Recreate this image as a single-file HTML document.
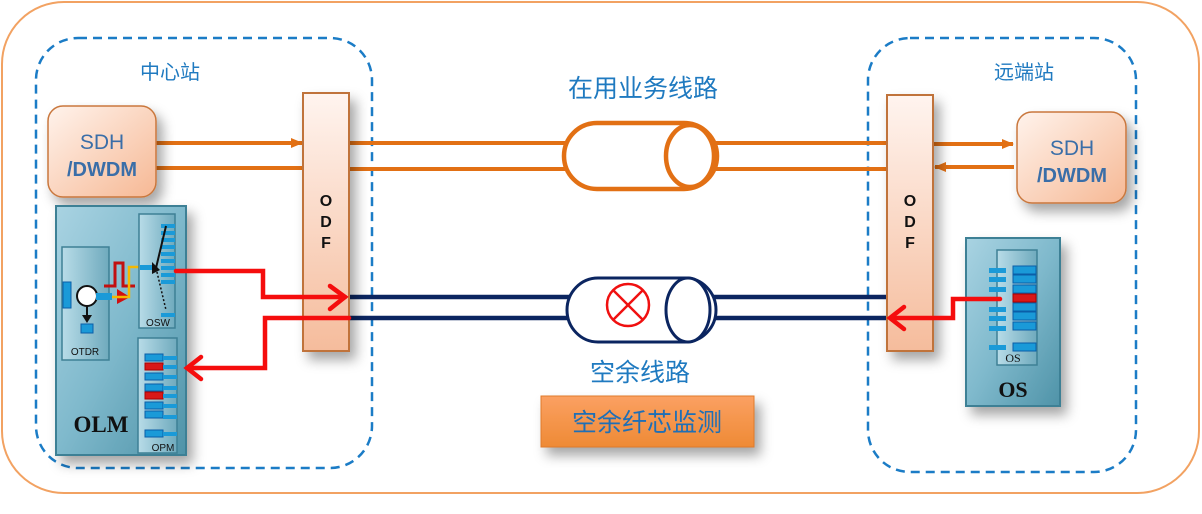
<!DOCTYPE html>
<html><head><meta charset="utf-8"><style>
html,body{margin:0;padding:0;background:#fff;width:1202px;height:514px;overflow:hidden}
svg{display:block}
text{font-family:"Liberation Sans","Noto Sans CJK SC",sans-serif}
.cn{font-family:"Liberation Sans","Noto Sans CJK SC",sans-serif;fill:#1f7ac0}
.serif{font-family:"Liberation Serif",serif}
</style></head><body>
<svg width="1202" height="514" viewBox="0 0 1202 514" xmlns="http://www.w3.org/2000/svg">
<defs>
<linearGradient id="peach" x1="0" y1="0" x2="1" y2="1"><stop offset="0" stop-color="#fff3ec"/><stop offset="1" stop-color="#f6b894"/></linearGradient>
<linearGradient id="odf" x1="0" y1="0" x2="0" y2="1"><stop offset="0" stop-color="#fff4ef"/><stop offset="1" stop-color="#f5bc9c"/></linearGradient>
<linearGradient id="teal" x1="0" y1="0" x2="1" y2="1"><stop offset="0" stop-color="#a9d3e2"/><stop offset="0.5" stop-color="#7fb9cc"/><stop offset="1" stop-color="#4f93a8"/></linearGradient>
<linearGradient id="teal2" x1="0" y1="0" x2="1" y2="0"><stop offset="0" stop-color="#b8dce8"/><stop offset="1" stop-color="#6faabd"/></linearGradient>
<linearGradient id="btn" x1="0" y1="0" x2="0" y2="1"><stop offset="0" stop-color="#fba062"/><stop offset="1" stop-color="#ee8a35"/></linearGradient>
<filter id="sh" x="-30%" y="-30%" width="170%" height="170%"><feDropShadow dx="6" dy="8" stdDeviation="6" flood-color="#000" flood-opacity="0.35"/></filter>
<marker id="ao" markerWidth="12" markerHeight="12" refX="11" refY="6" orient="auto" markerUnits="userSpaceOnUse"><path d="M0,1 L12,6 L0,11z" fill="#e27014"/></marker>
</defs>
<rect x="2" y="2" width="1197" height="491" rx="62" fill="#fff" stroke="#f2a262" stroke-width="2"/>
<rect x="36" y="38" width="336" height="430" rx="42" fill="none" stroke="#1b7cc6" stroke-width="2.5" stroke-dasharray="9,6"/>
<rect x="868" y="38" width="268" height="434" rx="42" fill="none" stroke="#1b7cc6" stroke-width="2.5" stroke-dasharray="9,6"/>
<text x="170" y="79" class="cn" font-size="20" text-anchor="middle">中心站</text>
<text x="1024" y="79" class="cn" font-size="20" text-anchor="middle">远端站</text>
<text x="643" y="97" class="cn" font-size="25" text-anchor="middle">在用业务线路</text>
<text x="640" y="381" class="cn" font-size="25" text-anchor="middle">空余线路</text>

<g stroke="#e27014" stroke-width="4" fill="none">
<line x1="156" y1="143" x2="302" y2="143" marker-end="url(#ao)"/>
<line x1="156" y1="168" x2="304" y2="168"/>
<line x1="349" y1="143" x2="887" y2="143"/>
<line x1="349" y1="169" x2="887" y2="169"/>
<line x1="934" y1="144" x2="1013" y2="144" marker-end="url(#ao)"/>
<line x1="1014" y1="167" x2="935" y2="167" marker-end="url(#ao)"/>
</g>
<g stroke="#0b2560" stroke-width="4.5">
<line x1="349" y1="297" x2="887" y2="297"/>
<line x1="349" y1="318" x2="887" y2="318"/>
</g>
<path d="M597,123 L684,123 A33,33 0 0 1 684,189 L597,189 A33,33 0 0 1 597,123z" fill="#fff" stroke="#e27014" stroke-width="4.5"/>
<ellipse cx="690" cy="156" rx="24" ry="31" fill="#fff" stroke="#e27014" stroke-width="4.5"/>
<path d="M598,278 L685,278 A31,32 0 0 1 685,342 L598,342 A31,32 0 0 1 598,278z" fill="#fff" stroke="#0b2560" stroke-width="3"/>
<ellipse cx="688" cy="310" rx="22" ry="32" fill="#fff" stroke="#0b2560" stroke-width="3"/>
<circle cx="628" cy="305" r="21" fill="none" stroke="#f01010" stroke-width="2.5"/>
<line x1="613" y1="290" x2="643" y2="320" stroke="#f01010" stroke-width="2.5"/>
<line x1="643" y1="290" x2="613" y2="320" stroke="#f01010" stroke-width="2.5"/>

<rect x="48" y="106" width="108" height="91" rx="15" fill="url(#peach)" stroke="#c9773c" stroke-width="1.5" filter="url(#sh)"/>
<text x="102" y="149" font-size="21" fill="#3a6ea8" text-anchor="middle">SDH</text>
<text x="102" y="176" font-size="20" font-weight="bold" fill="#3a6ea8" text-anchor="middle">/DWDM</text>
<rect x="1017" y="112" width="109" height="91" rx="15" fill="url(#peach)" stroke="#c9773c" stroke-width="1.5" filter="url(#sh)"/>
<text x="1072" y="155" font-size="21" fill="#3a6ea8" text-anchor="middle">SDH</text>
<text x="1072" y="182" font-size="20" font-weight="bold" fill="#3a6ea8" text-anchor="middle">/DWDM</text>

<rect x="303" y="93" width="46" height="258" fill="url(#odf)" stroke="#c0733a" stroke-width="2" filter="url(#sh)"/>
<rect x="887" y="95" width="46" height="256" fill="url(#odf)" stroke="#c0733a" stroke-width="2" filter="url(#sh)"/>
<g font-size="16" font-weight="bold" fill="#111" text-anchor="middle">
<text x="326" y="206">O</text><text x="326" y="227">D</text><text x="326" y="248">F</text>
<text x="910" y="206">O</text><text x="910" y="227">D</text><text x="910" y="248">F</text>
</g>

<rect x="56" y="206" width="130" height="249" fill="url(#teal)" stroke="#3e8095" stroke-width="2" filter="url(#sh)"/>
<rect x="62" y="247" width="47" height="113" fill="url(#teal2)" stroke="#3e8095" stroke-width="1.5"/>
<text x="85" y="355" font-size="10" fill="#111" text-anchor="middle">OTDR</text>
<rect x="63" y="282" width="8" height="26" fill="#1a9ad8" stroke="#0a5ea8"/>
<circle cx="87" cy="296" r="10" fill="#fff" stroke="#111" stroke-width="2"/>
<line x1="87" y1="306" x2="87" y2="317" stroke="#111" stroke-width="2"/><path d="M82,315 L92,315 L87,323z" fill="#111"/>
<rect x="81" y="324" width="12" height="9" fill="#1a9ad8" stroke="#0a5ea8"/>
<rect x="96" y="293" width="16" height="7" fill="#1a9ad8"/>
<path d="M117,289 L130,297 L117,304z" fill="#d01010"/>
<path d="M104,286 L115,286 L115,263 L123,263 L123,286 L135,286" fill="none" stroke="#c21010" stroke-width="3"/>
<path d="M112,297 L129,297 L129,267 L140,267" fill="none" stroke="#f5b800" stroke-width="2.5"/>
<rect x="139" y="214" width="36" height="114" fill="url(#teal2)" stroke="#3e8095" stroke-width="1.5"/>
<text x="158" y="326" font-size="10" fill="#111" text-anchor="middle">OSW</text>
<g fill="#1a9ad8">
<rect x="161" y="224" width="14" height="4"/><rect x="161" y="231" width="14" height="4"/><rect x="161" y="238" width="14" height="4"/><rect x="161" y="245" width="14" height="4"/><rect x="161" y="252" width="14" height="4"/><rect x="161" y="259" width="14" height="4"/><rect x="161" y="266" width="14" height="4"/><rect x="161" y="273" width="14" height="4"/><rect x="161" y="280" width="14" height="4"/><rect x="161" y="313" width="14" height="4"/>
<rect x="140" y="265" width="14" height="5"/>
</g>
<path d="M166,226 L156,268" stroke="#111" stroke-width="2"/>
<path d="M156,268 L166,310" stroke="#111" stroke-width="1.5" stroke-dasharray="2,2"/>
<path d="M152,262 L160,270 L152,274z" fill="#111"/>
<rect x="138" y="338" width="39" height="115" fill="url(#teal2)" stroke="#3e8095" stroke-width="1.5"/>
<text x="163" y="451" font-size="10" fill="#111" text-anchor="middle">OPM</text>
<g stroke-width="1">
<rect x="145" y="354" width="18" height="7" fill="#1a9ad8" stroke="#0a5ea8"/>
<rect x="145" y="363" width="18" height="7" fill="#d81818" stroke="#a00"/>
<rect x="145" y="373" width="18" height="7" fill="#1a9ad8" stroke="#0a5ea8"/>
<rect x="145" y="384" width="18" height="7" fill="#1a9ad8" stroke="#0a5ea8"/>
<rect x="145" y="392" width="18" height="7" fill="#d81818" stroke="#a00"/>
<rect x="145" y="402" width="18" height="7" fill="#1a9ad8" stroke="#0a5ea8"/>
<rect x="145" y="411" width="18" height="7" fill="#1a9ad8" stroke="#0a5ea8"/>
<rect x="145" y="430" width="18" height="7" fill="#1a9ad8" stroke="#0a5ea8"/>
</g>
<g fill="#1a9ad8"><rect x="163" y="356" width="14" height="4"/><rect x="163" y="365" width="14" height="4"/><rect x="163" y="375" width="14" height="4"/><rect x="163" y="386" width="14" height="4"/><rect x="163" y="394" width="14" height="4"/><rect x="163" y="404" width="14" height="4"/><rect x="163" y="415" width="14" height="4"/><rect x="163" y="432" width="14" height="4"/></g>
<text x="101" y="432" font-size="23" font-weight="bold" fill="#111" text-anchor="middle" class="serif">OLM</text>

<rect x="966" y="238" width="94" height="168" fill="url(#teal)" stroke="#3e8095" stroke-width="2" filter="url(#sh)"/>
<rect x="997" y="250" width="40" height="115" fill="url(#teal2)" stroke="#3e8095" stroke-width="1.5"/>
<text x="1013" y="362" font-size="12" fill="#111" text-anchor="middle" class="serif">OS</text>
<text x="1013" y="397" font-size="22" font-weight="bold" fill="#111" text-anchor="middle" class="serif">OS</text>
<g>
<rect x="1013" y="266" width="23" height="8" fill="#1a9ad8" stroke="#0a5ea8"/>
<rect x="1013" y="275" width="23" height="8" fill="#1a9ad8" stroke="#0a5ea8"/>
<rect x="1013" y="285" width="23" height="8" fill="#1a9ad8" stroke="#0a5ea8"/>
<rect x="1013" y="294" width="23" height="8" fill="#d81818" stroke="#a00"/>
<rect x="1013" y="303" width="23" height="8" fill="#1a9ad8" stroke="#0a5ea8"/>
<rect x="1013" y="312" width="23" height="8" fill="#1a9ad8" stroke="#0a5ea8"/>
<rect x="1013" y="322" width="23" height="8" fill="#1a9ad8" stroke="#0a5ea8"/>
<rect x="1013" y="343" width="23" height="8" fill="#1a9ad8" stroke="#0a5ea8"/>
</g>
<g fill="#1a9ad8"><rect x="989" y="268" width="17" height="5"/><rect x="989" y="277" width="17" height="5"/><rect x="989" y="287" width="17" height="5"/><rect x="989" y="307" width="17" height="5"/><rect x="989" y="316" width="17" height="5"/><rect x="989" y="326" width="17" height="5"/><rect x="989" y="345" width="17" height="5"/></g>

<g stroke="#f50d0d" stroke-width="4.5" fill="none" stroke-linejoin="miter" stroke-linecap="round">
<path d="M176,271 L263,271 L263,297 L345,297"/>
<path d="M330,286 L345,297 L330,309"/>
<path d="M349,318 L265,318 L265,368 L187,368"/>
<path d="M201,357 L187,368 L201,379"/>
<path d="M1000,299 L953,299 L953,318 L890,318"/>
<path d="M904,307 L890,318 L904,329"/>
</g>

<rect x="541" y="396" width="213" height="51" fill="url(#btn)" stroke="#e07a2a" stroke-width="1" filter="url(#sh)"/>
<text x="647" y="431" class="cn" font-size="25" text-anchor="middle" style="fill:#1f6fb6">空余纤芯监测</text>
</svg>
</body></html>
